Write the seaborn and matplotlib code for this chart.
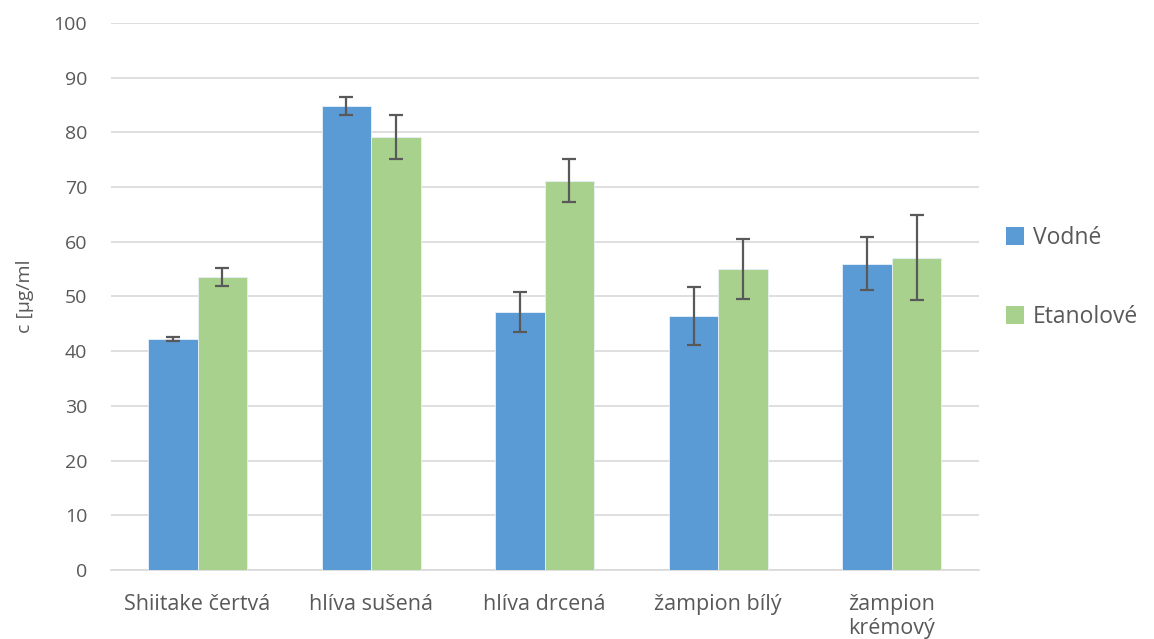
import matplotlib
matplotlib.use("Agg")
import matplotlib.pyplot as plt
import seaborn as sns
import pandas as pd
import numpy as np
from matplotlib.patches import Patch

categories = ["Shiitake čertvá", "hlíva sušená", "hlíva drcená", "žampion bílý", "žampion\nkrémový"]
series = ["Vodné", "Etanolové"]
vodne = [42.2, 84.8, 47.2, 46.5, 56.0]
vodne_err = [0.4, 1.6, 3.7, 5.3, 4.8]
etanolove = [53.6, 79.2, 71.2, 55.0, 57.1]
etanolove_err = [1.7, 4.0, 3.9, 5.5, 7.8]
y_ticks = [0, 10, 20, 30, 40, 50, 60, 70, 80, 90, 100]

colors = ["#5B9BD5", "#A9D18E"]
text_color = "#595959"
grid_color = "#D9D9D9"

df = pd.DataFrame({
    "kategorie": categories * 2,
    "extrakt": [series[0]] * len(categories) + [series[1]] * len(categories),
    "c": vodne + etanolove,
    "err": vodne_err + etanolove_err,
})

sns.set_theme(style="white")
plt.rcParams["font.family"] = ["Open Sans", "DejaVu Sans"]

fig = plt.figure(figsize=(11.54, 6.39), dpi=100)
ax = fig.add_axes([0.096, 0.108, 0.752, 0.856])

sns.barplot(data=df, x="kategorie", y="c", hue="extrakt", order=categories,
            hue_order=series, palette=colors, errorbar=None, width=0.57,
            saturation=1, ax=ax, legend=False, zorder=3,
            edgecolor="#E8F0F8", linewidth=0.6)

# error bars centred on each drawn bar
for container, errs, vals in zip(ax.containers, [vodne_err, etanolove_err], [vodne, etanolove]):
    xs = [p.get_x() + p.get_width() / 2 for p in container.patches]
    ax.errorbar(xs, vals, yerr=errs, fmt="none", ecolor="#595959",
                elinewidth=1.6, capsize=5, capthick=1.6, zorder=4)

ax.set_ylim(0, 100)
ax.set_yticks(y_ticks)
ax.set_xlim(-0.5, len(categories) - 0.5)
ax.yaxis.grid(True, color=grid_color, linewidth=1.2, zorder=0)
ax.set_axisbelow(True)
for side in ["top", "right", "left"]:
    ax.spines[side].set_visible(False)
ax.spines["bottom"].set_color(grid_color)
ax.spines["bottom"].set_linewidth(1.2)
ax.tick_params(axis="both", length=0, colors=text_color)
ax.tick_params(axis="y", pad=17, labelsize=14)
ax.tick_params(axis="x", pad=17, labelsize=15.5)
for lbl in ax.get_xticklabels():
    lbl.set_linespacing(1.2)
    lbl.set_verticalalignment("top")

ax.set_xlabel("")
ax.set_ylabel("c [µg/ml", color=text_color, fontsize=14, labelpad=14)

handles = [Patch(facecolor=c, edgecolor="none") for c in colors]
ax.legend(handles, series, loc="center left", bbox_to_anchor=(1.008, 0.535),
          frameon=False, fontsize=16.5, labelcolor=text_color,
          handlelength=0.8, handleheight=0.8, handletextpad=0.35,
          labelspacing=2.4)

fig.savefig("out.png", dpi=100, facecolor="white")
